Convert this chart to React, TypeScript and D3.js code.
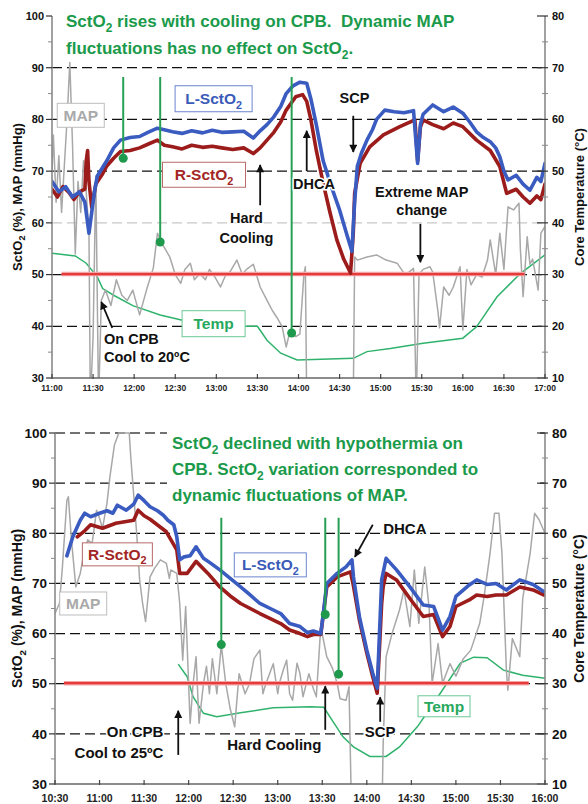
import React from 'react';
import * as d3 from 'd3';

const FONT = '"Liberation Sans", Arial, sans-serif';
const parseTime = d3.timeParse('%H:%M');
const fmtTime = d3.timeFormat('%H:%M');

// ---------------- upper case: cool to 20ºC ----------------
const topLTimes = ['11:00', '11:05', '11:10', '11:15', '11:20', '11:24', '11:27', '11:29', '11:31', '11:33', '11:40', '11:45', '11:50', '11:57', '12:04', '12:10', '12:17', '12:22', '12:28', '12:35', '12:42', '12:50', '12:57', '13:04', '13:12', '13:20', '13:27', '13:32', '13:37', '13:42', '13:47', '13:51', '13:56', '14:01', '14:06', '14:09', '14:13', '14:18', '14:24', '14:30', '14:35', '14:39', '14:41', '14:43', '14:46', '14:50', '14:54', '14:57', '15:03', '15:10', '15:17', '15:24', '15:27', '15:29', '15:31', '15:38', '15:46', '15:53', '16:00', '16:05', '16:10', '16:15', '16:20', '16:24', '16:27', '16:30', '16:33', '16:39', '16:44', '16:49', '16:54', '16:57', '17:00'];
const topLValues = [68, 66, 67, 65, 66, 64, 58, 62, 66, 69, 72, 74.5, 76, 76.5, 76.7, 77.5, 78.3, 78, 77.6, 77.3, 77.8, 77.4, 77.9, 77.5, 77.6, 77.7, 76.4, 77.8, 79, 80.5, 82.5, 85, 86.5, 87.2, 87, 84, 79, 72, 67, 62.5, 58, 54.5, 64, 71, 73.5, 76, 78, 80, 81.8, 81.5, 81.3, 81.7, 71.5, 79, 81, 82.8, 81.5, 82.4, 81.2, 79.5, 77.6, 76.5, 75.7, 74.5, 72.8, 70, 68.3, 69.2, 67.5, 66.3, 68.8, 68, 71.5];

const topRTimes = ['11:00', '11:04', '11:08', '11:12', '11:16', '11:20', '11:24', '11:25', '11:26', '11:27', '11:29', '11:32', '11:37', '11:40', '11:45', '11:50', '11:57', '12:04', '12:10', '12:17', '12:22', '12:28', '12:35', '12:42', '12:50', '12:57', '13:04', '13:12', '13:20', '13:27', '13:32', '13:37', '13:42', '13:47', '13:51', '13:58', '14:03', '14:06', '14:09', '14:13', '14:18', '14:23', '14:28', '14:33', '14:38', '14:40', '14:41', '14:45', '14:52', '15:02', '15:14', '15:25', '15:27', '15:29', '15:31', '15:38', '15:46', '15:53', '16:00', '16:10', '16:20', '16:27', '16:32', '16:39', '16:44', '16:49', '16:54', '16:57', '17:00'];
const topRValues = [66.5, 65, 67, 66, 64.5, 66, 66.5, 72, 74, 68, 63, 67.5, 69.5, 71, 72.5, 73.8, 74, 74.5, 75.2, 76, 75, 74.7, 74.3, 75, 74.6, 74.8, 74.5, 74.2, 74.5, 73.4, 74.5, 76, 77.5, 79.5, 81.8, 84.4, 84.8, 83.5, 80, 74, 67.7, 62, 56.7, 53, 50.3, 58, 65.7, 71.5, 74.7, 77, 78.6, 79.9, 72, 78.5, 79.9, 79, 78.2, 79.3, 78.6, 76, 74, 70.9, 65.7, 66.5, 65, 63.8, 65.2, 64.5, 67.5];

const topMapTimes = ['11:00', '11:01', '11:03', '11:05', '11:07', '11:09', '11:11', '11:13', '11:15', '11:17', '11:19', '11:21', '11:23', '11:25', '11:27', '11:28', '11:30', '11:32', '11:34', '11:36', '11:39', '11:43', '11:47', '11:51', '11:55', '11:59', '12:04', '12:09', '12:14', '12:17', '12:21', '12:26', '12:30', '12:34', '12:37', '12:41', '12:44', '12:48', '12:52', '12:55', '12:59', '13:03', '13:07', '13:10', '13:15', '13:19', '13:22', '13:27', '13:32', '13:37', '13:41', '13:44', '13:48', '13:51', '13:54', '13:58', '14:01', '14:04', '14:05', '14:06', '14:20', '14:40', '14:41', '14:43', '14:50', '14:57', '15:04', '15:12', '15:18', '15:24', '15:26', '15:28', '15:31', '15:36', '15:38', '15:42', '15:43', '15:46', '15:50', '15:53', '15:58', '16:00', '16:03', '16:06', '16:10', '16:14', '16:18', '16:20', '16:24', '16:27', '16:30', '16:33', '16:37', '16:41', '16:42', '16:44', '16:47', '16:49', '16:51', '16:55', '16:57', '17:00'];
const topMapValues = [70, 77, 64, 73, 62, 71, 80, 91, 75, 54, 68, 62, 72, 66, 58, 25, 38, 69, 25, 45, 47, 44, 49, 46, 45, 47, 42.2, 47, 51.3, 58, 55.7, 53.4, 50, 48.3, 51, 52.2, 49, 50.2, 49, 51, 49.5, 47.6, 50, 50.5, 52.8, 50, 51, 52, 47.6, 45, 43, 41.8, 40, 36, 39.3, 38, 38.5, 50.2, 51.5, 25, null, 25, 53.4, 52.8, 53.4, 53.8, 52.8, 52.2, 49.9, 51.2, 25, 50, 51, 51.5, 50.5, 42.5, 39.7, 47.6, 46, 47.6, 51.5, 39.3, 51, 48, 50, 49.5, 52.8, 56.7, 50, 58, 51, 63.1, 62.5, 63.8, 55, 45.7, 57.3, 52, 53, 47, 58, 59.3];

const topTempTimes = ['11:00', '11:17', '11:25', '11:33', '11:37', '11:45', '11:59', '12:19', '12:36', '12:58', '13:20', '13:30', '13:37', '13:47', '13:59', '14:40', '14:50', '15:07', '15:31', '16:00', '16:10', '16:25', '16:42', '17:00'];
const topTempValues = [34.1, 33.6, 32.2, 29.6, 27.3, 26, 24, 22.2, 21.1, 20.4, 20, 20, 17.3, 14.8, 13.5, 13.8, 15.1, 15.7, 16.7, 17.7, 19.9, 25.7, 30.2, 33.8];

const topThreshold = { from: '11:07', to: '16:45', value: 50 };
const topEventTimes = ['11:52', '12:19', '13:55'];
const topEventValues = [72.5, 56.3, 38.7];
const topEventTop = 88.2;

// ---------------- lower case: cool to 25ºC ----------------
const botLTimes = ['10:38', '10:42', '10:47', '10:50', '10:54', '11:00', '11:05', '11:09', '11:12', '11:18', '11:23', '11:26', '11:30', '11:34', '11:39', '11:43', '11:46', '11:50', '11:52', '11:54', '11:57', '12:01', '12:05', '12:10', '12:15', '12:21', '12:28', '12:35', '12:41', '12:48', '12:55', '13:02', '13:08', '13:15', '13:20', '13:24', '13:29', '13:31', '13:33', '13:40', '13:46', '13:50', '13:51', '13:55', '14:00', '14:04', '14:07', '14:09', '14:10', '14:13', '14:20', '14:29', '14:38', '14:45', '14:51', '14:56', '15:00', '15:09', '15:14', '15:21', '15:27', '15:34', '15:43', '15:52', '15:59'];
const botLValues = [75.5, 79.3, 82.6, 84, 83.3, 84, 84.5, 84, 85.6, 84.6, 85.8, 87.6, 86.5, 85.3, 84.5, 83.6, 82.6, 81.7, 79.3, 74.7, 75.3, 75.5, 77.3, 75, 74, 72.7, 71, 69.3, 67.8, 66, 65, 64, 62, 61.4, 60.2, 60.5, 60, 64.7, 70, 72, 73.3, 74.7, 71.3, 63.4, 56.7, 52.1, 49.1, 63.4, 70.7, 75, 72.7, 69.3, 65.7, 65.4, 60.7, 63.4, 67.4, 69.7, 70.7, 69.8, 70, 68.7, 70.7, 69.8, 68.4];

const botRTimes = ['10:45', '10:50', '10:54', '11:02', '11:11', '11:23', '11:26', '11:30', '11:34', '11:45', '11:52', '11:54', '11:59', '12:05', '12:13', '12:21', '12:28', '12:35', '12:48', '13:02', '13:08', '13:15', '13:20', '13:24', '13:29', '13:31', '13:33', '13:40', '13:49', '13:51', '13:55', '14:00', '14:04', '14:07', '14:09', '14:10', '14:11', '14:13', '14:20', '14:29', '14:38', '14:45', '14:51', '14:56', '15:00', '15:09', '15:14', '15:21', '15:27', '15:34', '15:43', '15:52', '15:59'];
const botRValues = [79.3, 80.5, 81.7, 81, 82, 82.6, 84.6, 83.5, 82.8, 80.3, 76.7, 72, 72, 74.4, 72, 69.3, 67.5, 66, 64, 62, 60.7, 60, 59.4, 59.8, 59.8, 64.5, 69.3, 71.3, 72.3, 69.5, 62.7, 56.1, 51.4, 48.1, 60, 66, 69.3, 72, 70.7, 67, 63.4, 63.8, 59.4, 61.4, 65.4, 66.7, 67.7, 67.4, 67.7, 67.7, 69.3, 68.7, 67.7];

const botMapTimes = ['10:30', '10:31', '10:33', '10:35', '10:38', '10:39', '10:41', '10:44', '10:47', '10:49', '10:52', '10:55', '10:58', '11:00', '11:02', '11:05', '11:07', '11:10', '11:13', '11:17', '11:20', '11:21', '11:25', '11:27', '11:29', '11:31', '11:34', '11:37', '11:41', '11:45', '11:47', '11:48', '11:52', '11:54', '11:56', '11:58', '12:01', '12:03', '12:05', '12:07', '12:10', '12:12', '12:14', '12:16', '12:19', '12:22', '12:25', '12:28', '12:31', '12:34', '12:38', '12:41', '12:44', '12:48', '12:50', '12:52', '12:57', '13:00', '13:01', '13:04', '13:06', '13:08', '13:10', '13:13', '13:15', '13:17', '13:21', '13:24', '13:26', '13:29', '13:33', '13:37', '13:40', '13:42', '13:46', '13:48', '13:50', '14:00', '14:10', '14:11', '14:13', '14:17', '14:22', '14:25', '14:29', '14:32', '14:35', '14:39', '14:42', '14:44', '14:48', '14:51', '14:56', '15:00', '15:05', '15:10', '15:16', '15:19', '15:23', '15:26', '15:29', '15:31', '15:34', '15:35', '15:38', '15:43', '15:45', '15:50', '15:53', '15:56', '16:00'];
const botMapValues = [64, 64.7, 66, 73.3, 86.6, 87.3, 79, 69.3, 72, 75.3, 78.7, 78, 84.6, 83, 81, 86, 91.3, 97.6, 100, 100, 100, 95.3, 80, 70.7, 66, 62.4, 71.3, 73, 74.7, 74, 71, 72.7, 72, 66, 54.7, 65.4, 42.1, 50, 55.4, 42.1, 50, 53.5, 48, 55, 48, 57.7, 50, 45, 41.4, 52, 48, 50, 55, 56.7, 48, 50, 54, 48, 50, 53, 54.7, 48, 46.7, 54.1, 52, 47.4, 52, 49, 47.4, 61.4, 55.4, 53, 50.1, 47, 46.7, 49.4, 20, null, 20, 38, 55.4, 60, 64.7, 68.7, 61.4, 72.7, 62, 73.3, 65, 50.1, 58, 50.1, 54, 51.5, 55, 56.7, 62, 67.4, 76, 84, 84, 76, 52.7, 48.7, 59, 55.4, 67, 76, 84, 82.7, 80];

const botTempTimes = ['11:53', '11:59', '12:03', '12:10', '12:19', '12:35', '12:57', '13:22', '13:31', '13:38', '13:44', '13:51', '14:02', '14:13', '14:22', '14:34', '14:45', '14:54', '15:03', '15:12', '15:21', '15:32', '15:45', '16:00'];
const botTempValues = [33.9, 31.4, 27.4, 24.1, 23.4, 24.2, 25.2, 25.4, 25.3, 22.1, 19.4, 17.4, 15.5, 15.5, 17.4, 21.4, 26.1, 30.1, 34.1, 35.3, 35.2, 32.7, 31.7, 31.1];

const botThreshold = { from: '10:36', to: '15:49', value: 50 };
const botEventTimes = ['12:22', '13:32', '13:41'];
const botEventValues = [57.8, 63.8, 51.9];
const botEventTop = 83.1;

const C = {
  blue: '#3a5bc0',
  red: '#9c1b1b',
  map: '#a8a8a8',
  temp: '#2fb36c',
  thr: '#e63b3b',
  event: '#27a055',
  title: '#1a9a4a',
};

const topPanel = {
  id: 'top',
  start: '11:00',
  end: '17:00',
  box: { left: 52, right: 545, top: 16, bottom: 378 },
  yFs: 11,
  xFs: 8.5,
  xDy: 13,
  axisFs: 13,
  grid: [
    { v: 90, c: '#111' },
    { v: 80, c: '#111' },
    { v: 70, c: '#111' },
    { v: 60, c: '#c8c8c8' },
    { v: 50, c: '#111' },
    { v: 40, c: '#111' },
  ],
  L: [topLTimes, topLValues],
  R: [topRTimes, topRValues],
  map: [topMapTimes, topMapValues],
  temp: [topTempTimes, topTempValues],
  thr: topThreshold,
  events: [topEventTimes, topEventValues, topEventTop],
  title: { x: 66, ys: [27, 54], fs: 17, lines: ['SctO₂ rises with cooling on CPB.\u00a0 Dynamic MAP', 'fluctuations has no effect on SctO₂.'], bg: [60, 6, 462, 54] },
  boxes: [
    { text: 'MAP', t: '11:21', v: 80.8, w: 47, h: 24, stroke: '#bdbdbd', fill: '#a9a9a9' },
    { text: 'L-SctO₂', t: '12:58', v: 84, w: 77, h: 26, stroke: '#6a84d0', fill: '#3b5bb8' },
    { text: 'R-SctO₂', t: '12:51', v: 69.3, w: 83, h: 25, stroke: '#b86a6a', fill: '#a32626' },
    { text: 'Temp', t: '12:58', v: 40.5, w: 63, h: 26, stroke: '#6cc895', fill: '#27a85c' },
  ],
  boxFs: 15.5,
  notes: [
    { lines: ['Hard', 'Cooling'], t: '13:22', v: 60, anchor: 'middle', lh: 20 },
    { lines: ['DHCA'], t: '13:56', v: 66.5, anchor: 'start', lh: 0 },
    { lines: ['SCP'], t: '14:30', v: 83.2, anchor: 'start', lh: 0 },
    { lines: ['Extreme MAP', 'change'], t: '15:30', v: 65, anchor: 'middle', lh: 18 },
    { lines: ['On CPB', 'Cool to 20ºC'], t: '11:38', v: 36.6, anchor: 'start', lh: 18 },
  ],
  noteFs: 14.5,
  arrows: [
    { t1: '13:32', v1: 63.4, t2: '13:32', v2: 71.2 },
    { t1: '14:06', v1: 70, t2: '14:06', v2: 77.8 },
    { t1: '14:40', v1: 80.7, t2: '14:40', v2: 73.7 },
    { t1: '15:29', v1: 59.8, t2: '15:29', v2: 52.4 },
    { t1: '11:44', v1: 39.7, t2: '11:36', v2: 44.7 },
  ],
  leftTitleX: 17,
  rightTitleX: 579,
};

const botPanel = {
  id: 'bot',
  start: '10:30',
  end: '16:00',
  box: { left: 55, right: 545, top: 433, bottom: 784 },
  yFs: 13.5,
  xFs: 10.5,
  xDy: 18,
  axisFs: 14,
  grid: [
    { v: 100, c: '#444' },
    { v: 90, c: '#111' },
    { v: 80, c: '#111' },
    { v: 70, c: '#111' },
    { v: 60, c: '#111' },
    { v: 50, c: '#111' },
    { v: 40, c: '#111' },
  ],
  L: [botLTimes, botLValues],
  R: [botRTimes, botRValues],
  map: [botMapTimes, botMapValues],
  temp: [botTempTimes, botTempValues],
  thr: botThreshold,
  events: [botEventTimes, botEventValues, botEventTop],
  title: { x: 172, ys: [449, 475, 501], fs: 17, lines: ['SctO₂ declined with hypothermia on', 'CPB. SctO₂ variation corresponded to', 'dynamic fluctuations of MAP.'], bg: [167, 430, 373, 78] },
  boxes: [
    { text: 'R-SctO₂', t: '11:12', v: 75.8, w: 70, h: 23, stroke: '#b86a6a', fill: '#a32626' },
    { text: 'MAP', t: '10:49', v: 66, w: 47, h: 23, stroke: '#bdbdbd', fill: '#a9a9a9' },
    { text: 'L-SctO₂', t: '12:55', v: 73.7, w: 72, h: 24, stroke: '#6a84d0', fill: '#3b5bb8' },
    { text: 'Temp', t: '14:52', v: 45.5, w: 52, h: 21, stroke: '#6cc895', fill: '#27a85c' },
  ],
  boxFs: 15.5,
  notes: [
    { lines: ['DHCA'], t: '14:11', v: 79.9, anchor: 'start', lh: 0 },
    { lines: ['SCP'], t: '14:09', v: 39.4, anchor: 'middle', lh: 0 },
    { lines: ['Hard Cooling'], t: '12:26', v: 36.8, anchor: 'start', lh: 0 },
    { lines: ['On CPB', 'Cool to 25ºC'], t: '11:43', v: 39.4, anchor: 'end', lh: 21 },
  ],
  noteFs: 15,
  arrows: [
    { t1: '14:04', v1: 81.7, t2: '13:52', v2: 75.3 },
    { t1: '14:09', v1: 42.4, t2: '14:09', v2: 47.3 },
    { t1: '13:32', v1: 40.8, t2: '13:32', v2: 49.5 },
    { t1: '11:53', v1: 35.8, t2: '11:53', v2: 44.6 },
  ],
  leftTitleX: 17,
  rightTitleX: 579,
};

// renders "₂" as a lowered small 2
const withSub = (s: string, fs: number) => {
  const parts = s.split('₂');
  const out: any[] = [];
  parts.forEach((p, i) => {
    if (i > 0) {
      out.push(<tspan key={'s' + i} dy={fs * 0.28} fontSize={fs * 0.7}>2</tspan>);
      if (p) out.push(<tspan key={'p' + i} dy={-fs * 0.28}>{p}</tspan>);
    } else if (p) {
      out.push(<tspan key={'p' + i}>{p}</tspan>);
    }
  });
  return out;
};

const Panel = ({ p }: { p: any }) => {
  const { left, right, top, bottom } = p.box;
  const x = d3.scaleTime().domain([parseTime(p.start) as Date, parseTime(p.end) as Date]).range([left, right]);
  const y = d3.scaleLinear().domain([30, 100]).range([bottom, top]);
  const yT = d3.scaleLinear().domain([10, 80]).range([bottom, top]);
  const X = (s: string) => x(parseTime(s) as Date);

  const linePath = (times: string[], values: (number | null)[], sc: any = y) =>
    d3.line<number>()
      .defined((i) => values[i] != null)
      .x((i) => X(times[i]))
      .y((i) => sc(values[i] as number))(d3.range(times.length)) || '';

  const clipId = 'clip-' + p.id;
  const xTicks = x.ticks(d3.timeMinute.every(30) as any);
  const yMajor = d3.range(30, 101, 10);
  const yMinor = d3.range(35, 100, 10);
  const tMajor = d3.range(10, 81, 10);
  const tMinor = d3.range(15, 80, 10);
  const [evT, evV, evTop] = p.events;
  const axisColor = '#8a8a8a';
  const midY = (top + bottom) / 2;

  return (
    <g fontFamily={FONT}>
      <defs>
        <clipPath id={clipId}>
          <rect x={left} y={top - 1} width={right - left} height={bottom - top + 1} />
        </clipPath>
      </defs>

      {/* gridlines */}
      {p.grid.map((g: any) => (
        <line key={g.v} x1={left} x2={right} y1={y(g.v)} y2={y(g.v)} stroke={g.c} strokeWidth={1.3} strokeDasharray="10,5" />
      ))}

      <g clipPath={`url(#${clipId})`}>
        <path d={linePath(p.temp[0], p.temp[1], yT)} fill="none" stroke={C.temp} strokeWidth={1.5} />
        <path d={linePath(p.map[0], p.map[1])} fill="none" stroke={C.map} strokeWidth={1.5} strokeLinejoin="round" />
        <line x1={X(p.thr.from)} x2={X(p.thr.to)} y1={y(p.thr.value) - 0.5} y2={y(p.thr.value) - 0.5} stroke="#f3a5a5" strokeWidth={4.5} />
        <line x1={X(p.thr.from)} x2={X(p.thr.to)} y1={y(p.thr.value) - 0.5} y2={y(p.thr.value) - 0.5} stroke={C.thr} strokeWidth={2.2} />
        <path d={linePath(p.R[0], p.R[1])} fill="none" stroke={C.red} strokeWidth={3.6} strokeLinejoin="round" strokeLinecap="round" />
        <path d={linePath(p.L[0], p.L[1])} fill="none" stroke={C.blue} strokeWidth={3.6} strokeLinejoin="round" strokeLinecap="round" />
        {evT.map((t: string, i: number) => (
          <g key={t}>
            <line x1={X(t)} x2={X(t)} y1={y(evTop)} y2={y(evV[i])} stroke={C.event} strokeWidth={2} />
            <circle cx={X(t)} cy={y(evV[i])} r={4.5} fill="#1f9a4c" />
          </g>
        ))}
      </g>

      {/* title */}
      <rect x={p.title.bg[0]} y={p.title.bg[1]} width={p.title.bg[2]} height={p.title.bg[3]} fill="#fff" />
      {p.title.lines.map((ln: string, i: number) => (
        <text key={i} x={p.title.x} y={p.title.ys[i]} fontSize={p.title.fs} fontWeight="bold" fill={C.title}>
          {withSub(ln, p.title.fs)}
        </text>
      ))}

      {/* series label boxes */}
      {p.boxes.map((b: any) => (
        <g key={b.text + b.t}>
          <rect x={X(b.t) - b.w / 2} y={y(b.v) - b.h / 2} width={b.w} height={b.h} fill="#fff" stroke={b.stroke} strokeWidth={1} />
          <text x={X(b.t)} y={y(b.v) + p.boxFs * 0.36} textAnchor="middle" fontSize={p.boxFs} fontWeight="bold" fill={b.fill}>
            {withSub(b.text, p.boxFs)}
          </text>
        </g>
      ))}

      {/* annotations */}
      {p.notes.map((n: any) =>
        n.lines.map((ln: string, i: number) => (
          <text key={ln} x={X(n.t)} y={y(n.v) + i * n.lh} textAnchor={n.anchor} fontSize={p.noteFs} fontWeight="bold" fill="#111"
            stroke="#fff" strokeWidth={3} paintOrder="stroke" style={{ whiteSpace: 'pre' }}>
            {ln}
          </text>
        ))
      )}
      {p.arrows.map((a: any, i: number) => (
        <line key={i} x1={X(a.t1)} y1={y(a.v1)} x2={X(a.t2)} y2={y(a.v2)} stroke="#111" strokeWidth={1.8} markerEnd="url(#arrowhead)" />
      ))}

      {/* left axis */}
      <line x1={left} x2={left} y1={top} y2={bottom} stroke={axisColor} strokeWidth={1.6} />
      {yMajor.map((v) => (
        <g key={v}>
          <line x1={left - 6} x2={left} y1={y(v)} y2={y(v)} stroke="#333" strokeWidth={1.2} />
          <text x={left - 8} y={y(v)} dy="0.35em" textAnchor="end" fontSize={p.yFs} fontWeight="bold" fill="#111">{v}</text>
        </g>
      ))}
      {yMinor.map((v) => (
        <line key={v} x1={left - 4} x2={left} y1={y(v)} y2={y(v)} stroke={axisColor} strokeWidth={1} />
      ))}

      {/* right axis */}
      <line x1={right} x2={right} y1={top} y2={bottom} stroke={axisColor} strokeWidth={1.6} />
      {tMajor.map((v) => (
        <g key={v}>
          <line x1={right - 8} x2={right + 3} y1={yT(v)} y2={yT(v)} stroke="#333" strokeWidth={1.2} />
          <text x={right + 7} y={yT(v)} dy="0.35em" fontSize={p.yFs} fontWeight="bold" fill="#111">{v}</text>
        </g>
      ))}
      {tMinor.map((v) => (
        <line key={v} x1={right - 3} x2={right + 3} y1={yT(v)} y2={yT(v)} stroke={axisColor} strokeWidth={1} />
      ))}

      {/* time axis */}
      <line x1={left} x2={right} y1={bottom} y2={bottom} stroke="#666" strokeWidth={1.4} />
      {xTicks.map((d: Date) => (
        <g key={+d}>
          <line x1={x(d)} x2={x(d)} y1={bottom - 4} y2={bottom + 1} stroke="#444" strokeWidth={1.2} />
          <text x={x(d)} y={bottom + p.xDy} textAnchor="middle" fontSize={p.xFs} fontWeight="bold" fill="#222">{fmtTime(d)}</text>
        </g>
      ))}

      {/* axis titles */}
      <text transform={`translate(${p.leftTitleX},${midY}) rotate(-90)`} textAnchor="middle" dy="0.35em" fontSize={p.axisFs} fontWeight="bold" fill="#111">
        {withSub('SctO₂ (%), MAP (mmHg)', p.axisFs)}
      </text>
      <text transform={`translate(${p.rightTitleX},${midY}) rotate(-90)`} textAnchor="middle" dy="0.35em" fontSize={p.axisFs} fontWeight="bold" fill="#111">
        Core Temperature (°C)
      </text>
    </g>
  );
};

export default function App() {
  return (
    <svg width={588} height={804} style={{ position: 'absolute', left: 0, top: 0, background: '#fff' }}>
      <defs>
        <marker id="arrowhead" viewBox="0 0 10 10" refX="9" refY="5" markerWidth="9" markerHeight="8" markerUnits="userSpaceOnUse" orient="auto">
          <path d="M0,0 L10,5 L0,10 z" fill="#111" />
        </marker>
      </defs>
      <rect width={588} height={804} fill="#fff" />
      <Panel p={topPanel} />
      <Panel p={botPanel} />
    </svg>
  );
}
